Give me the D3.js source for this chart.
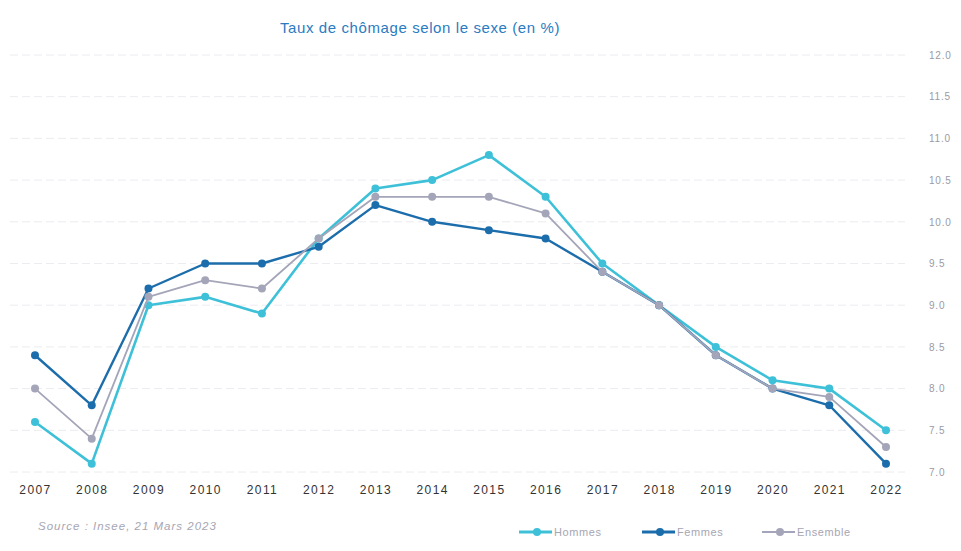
<!DOCTYPE html>
<html>
<head>
<meta charset="utf-8">
<script src="https://cdn.jsdelivr.net/npm/d3@7"></script>
<style>
  html, body { margin: 0; padding: 0; background: #fff; }
  svg { display: block; font-family: "Liberation Sans", Arial, sans-serif; }
</style>
</head>
<body>
<svg id="chart" width="961" height="551"></svg>
<script>
// Taux de chômage par sexe, 2007-2022 (en %)
const years = ["2007","2008","2009","2010","2011","2012","2013","2014","2015","2016","2017","2018","2019","2020","2021","2022"];
const hommes   = [7.6, 7.1, 9.0, 9.1, 8.9, 9.8, 10.4, 10.5, 10.8, 10.3, 9.5, 9.0, 8.5, 8.1, 8.0, 7.5];
const femmes   = [8.4, 7.8, 9.2, 9.5, 9.5, 9.7, 10.2, 10.0, 9.9, 9.8, 9.4, 9.0, 8.4, 8.0, 7.8, 7.1];
const ensemble = [8.0, 7.4, 9.1, 9.3, 9.2, 9.8, 10.3, 10.3, 10.3, 10.1, 9.4, 9.0, 8.4, 8.0, 7.9, 7.3];
const yTicks = [7.0, 7.5, 8.0, 8.5, 9.0, 9.5, 10.0, 10.5, 11.0, 11.5, 12.0];

const seriesNames = ["Hommes", "Femmes", "Ensemble"];
const seriesValues = [hommes, femmes, ensemble];
const colors = ["#3ec1d8", "#1c6dab", "#a4a5b8"];
const widths = [2.6, 2.4, 1.8];

const svg = d3.select("#chart");

const x = d3.scalePoint().domain(years).range([35, 886]);
const y = d3.scaleLinear().domain([7, 12]).range([472, 55]);

// Title
svg.append("text")
  .attr("x", 420).attr("y", 33)
  .attr("text-anchor", "middle")
  .attr("fill", "#2b7bc2")
  .attr("font-size", 15)
  .attr("letter-spacing", 0.6)
  .text("Taux de chômage selon le sexe (en %)");

// Horizontal gridlines
svg.append("g")
  .selectAll("line")
  .data(yTicks)
  .join("line")
  .attr("x1", 10).attr("x2", 905)
  .attr("y1", d => y(d)).attr("y2", d => y(d))
  .attr("stroke", "#ececf0")
  .attr("stroke-width", 1)
  .attr("stroke-dasharray", "8,4");

// Right-side y axis labels
const yAxis = d3.axisRight(y).tickValues(yTicks).tickFormat(d3.format(".1f")).tickSize(0).tickPadding(0);
const gy = svg.append("g").attr("transform", "translate(929,0)").call(yAxis);
gy.select(".domain").remove();
gy.selectAll("text").attr("fill", "#9a9aa6").attr("font-size", 10).attr("letter-spacing", 0.8)
  .attr("font-family", "Liberation Sans, Arial, sans-serif");

// Bottom x axis labels
const xAxis = d3.axisBottom(x).tickSize(0).tickPadding(0);
const gx = svg.append("g").attr("transform", "translate(0,485)").call(xAxis);
gx.select(".domain").remove();
gx.selectAll("text").attr("fill", "#333").attr("font-size", 12).attr("letter-spacing", 1.4)
  .attr("font-family", "Liberation Sans, Arial, sans-serif");

// Lines and markers
const line = d3.line().x((d, i) => x(years[i])).y(d => y(d));
seriesValues.forEach((vals, s) => {
  const g = svg.append("g");
  g.append("path")
    .datum(vals)
    .attr("d", line)
    .attr("fill", "none")
    .attr("stroke", colors[s])
    .attr("stroke-width", widths[s])
    .attr("stroke-linejoin", "round");
  g.selectAll("circle")
    .data(vals)
    .join("circle")
    .attr("cx", (d, i) => x(years[i]))
    .attr("cy", d => y(d))
    .attr("r", 4)
    .attr("fill", colors[s]);
});

// Source
svg.append("text")
  .attr("x", 38).attr("y", 530)
  .attr("fill", "#a6a6b4")
  .attr("font-size", 11.5)
  .attr("font-style", "italic")
  .attr("letter-spacing", 1)
  .text("Source : Insee, 21 Mars 2023");

// Legend
const legendX = [519, 642, 762];
const legend = svg.append("g");
seriesNames.forEach((name, s) => {
  const lg = legend.append("g").attr("transform", `translate(${legendX[s]},532)`);
  lg.append("line").attr("x1", 0).attr("x2", 33).attr("y1", 0).attr("y2", 0)
    .attr("stroke", colors[s]).attr("stroke-width", widths[s] + 0.4);
  lg.append("circle").attr("cx", 18).attr("cy", 0).attr("r", 4).attr("fill", colors[s]);
  lg.append("text").attr("x", 35).attr("y", 4)
    .attr("fill", "#a6a6b4").attr("font-size", 11).attr("letter-spacing", 0.6).text(name);
});
</script>
</body>
</html>
